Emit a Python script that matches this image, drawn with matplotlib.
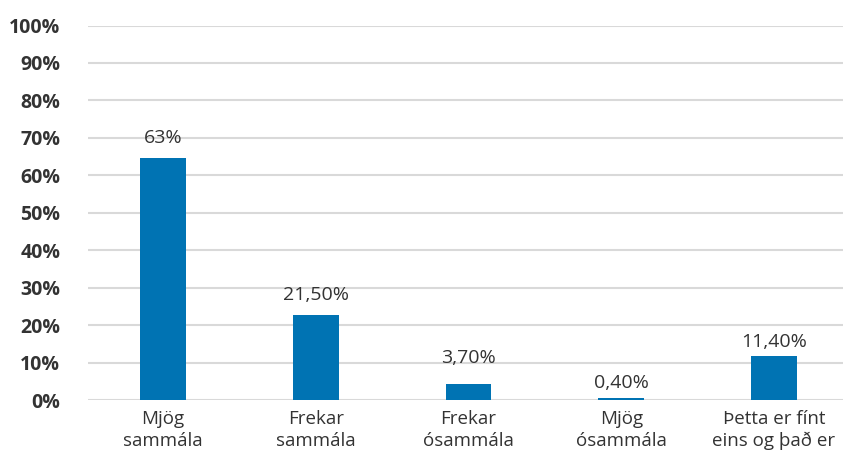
import matplotlib
matplotlib.use("Agg")
import matplotlib.pyplot as plt
from matplotlib.ticker import FuncFormatter

categories = ["Mjög\nsammála", "Frekar\nsammála", "Frekar\nósammála", "Mjög\nósammála", "Þetta er fínt\neins og það er"]
bar_values = [64.6, 22.7, 4.3, 0.5, 11.7]
value_labels = ["63%", "21,50%", "3,70%", "0,40%", "11,40%"]
label_y = [68.6, 26.7, 9.9, 3.2, 14.2]
yticks = [0, 10, 20, 30, 40, 50, 60, 70, 80, 90, 100]

plt.rcParams['font.family'] = ['Open Sans', 'DejaVu Sans']
text_color = "#333333"
bar_color = "#0073B3"

fig = plt.figure(figsize=(8.43, 4.59), dpi=100)
W, H = 843, 459
ax = fig.add_axes([88 / W, (H - 400) / H, (843 - 88) / W, (400 - 25.5) / H])

x = list(range(len(categories)))
ax.bar(x, bar_values, width=0.30, color=bar_color, zorder=3)
for xi, lab, ly in zip(x, value_labels, label_y):
    ax.text(xi, ly, lab, ha="center", va="baseline", fontsize=14, color=text_color, zorder=4)

ax.set_ylim(0, 100)
ax.set_xlim(-0.491, 4.452)
ax.set_yticks(yticks)
ax.yaxis.set_major_formatter(FuncFormatter(lambda v, p: f"{int(v)}%"))
ax.set_xticks(x)
ax.set_xticklabels(categories, fontsize=13.5, color=text_color, linespacing=1.3)
for t in ax.get_yticklabels():
    t.set_fontweight("bold")
    t.set_fontsize(14)
    t.set_color(text_color)
ax.tick_params(axis="y", length=0, pad=20)
ax.tick_params(axis="x", length=0, pad=7)
ax.grid(axis="y", color="#d9d9d9", linewidth=1.5, zorder=0)
ax.set_axisbelow(True)
for s in ax.spines.values():
    s.set_visible(False)

fig.savefig("out.png", dpi=100)
